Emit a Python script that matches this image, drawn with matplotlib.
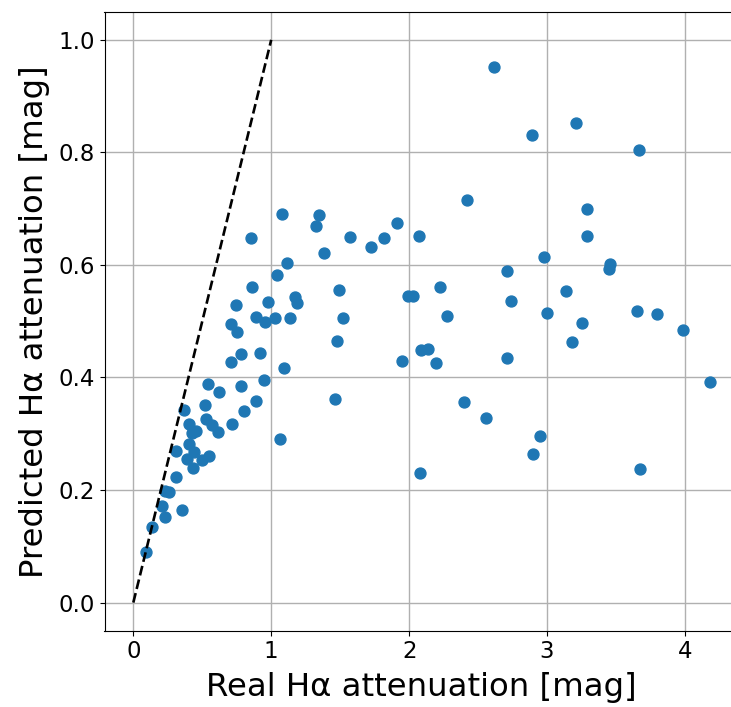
import matplotlib
matplotlib.use("Agg")
import matplotlib.pyplot as plt

real = [0.093, 0.134, 0.233, 0.211, 0.351, 0.231, 0.262, 0.311, 0.436, 0.388,
        0.496, 0.552, 0.438, 0.405, 0.306, 0.422, 0.451, 0.407, 0.615, 0.567,
        0.525, 0.717, 0.804, 0.886, 0.523, 0.364, 0.618, 0.545, 0.779, 0.944,
        1.062, 1.091, 0.705, 0.782, 0.922, 0.710, 0.755, 0.886, 0.956, 1.026,
        1.135, 0.741, 0.980, 1.174, 1.189, 0.864, 1.077, 1.343, 1.324, 0.852,
        1.573, 1.723, 1.382, 1.113, 1.041, 1.493, 1.520, 1.474, 1.462, 2.615,
        3.208, 2.891, 3.665, 2.417, 3.293, 1.909, 1.820, 2.071, 3.288, 2.981,
        2.708, 3.460, 3.448, 2.226, 1.989, 2.025, 3.136, 2.739, 2.272, 3.003,
        3.651, 3.794, 3.254, 3.987, 3.184, 2.086, 2.136, 1.948, 2.192, 2.710,
        4.183, 2.398, 2.560, 2.947, 2.896, 2.081, 3.673]
predicted = [0.090, 0.134, 0.152, 0.172, 0.164, 0.199, 0.196, 0.223, 0.239, 0.256,
             0.253, 0.260, 0.268, 0.282, 0.270, 0.302, 0.304, 0.318, 0.303, 0.315,
             0.326, 0.317, 0.340, 0.359, 0.351, 0.342, 0.374, 0.389, 0.385, 0.396,
             0.291, 0.416, 0.428, 0.441, 0.444, 0.495, 0.480, 0.507, 0.498, 0.505,
             0.505, 0.528, 0.534, 0.543, 0.533, 0.560, 0.691, 0.689, 0.669, 0.647,
             0.649, 0.631, 0.622, 0.603, 0.582, 0.556, 0.505, 0.464, 0.362, 0.952,
             0.852, 0.830, 0.804, 0.716, 0.699, 0.674, 0.647, 0.651, 0.652, 0.614,
             0.590, 0.602, 0.592, 0.560, 0.544, 0.545, 0.553, 0.536, 0.510, 0.514,
             0.518, 0.512, 0.496, 0.484, 0.463, 0.448, 0.451, 0.429, 0.425, 0.434,
             0.392, 0.356, 0.328, 0.296, 0.264, 0.231, 0.238]
line_x = [0, 1]
line_y = [0, 1]

W, H = 731, 707
fig = plt.figure(figsize=(W / 100, H / 100), dpi=100)
ax = fig.add_axes([104.5 / W, (H - 630.7) / H, 634.5 / W, 619.0 / H])

ax.scatter(real, predicted, s=62, color="#1f77b4", zorder=2)
ax.plot(line_x, line_y, "k--", lw=1.9, zorder=3)
ax.set_axisbelow(True)
ax.grid(True, color="#b0b0b0", lw=1.0)
ax.set_xlim(-0.209, 4.392)
ax.set_ylim(-0.05, 1.05)
ax.set_xticks([0, 1, 2, 3, 4])
ax.set_yticks([0.0, 0.2, 0.4, 0.6, 0.8, 1.0])
ax.tick_params(labelsize=16.5)
ax.set_xlabel("Real Hα attenuation [mag]", fontsize=23.3, labelpad=6)
ax.set_ylabel("Predicted Hα attenuation [mag]", fontsize=23.3, labelpad=6)

fig.savefig("out.png", dpi=100)
